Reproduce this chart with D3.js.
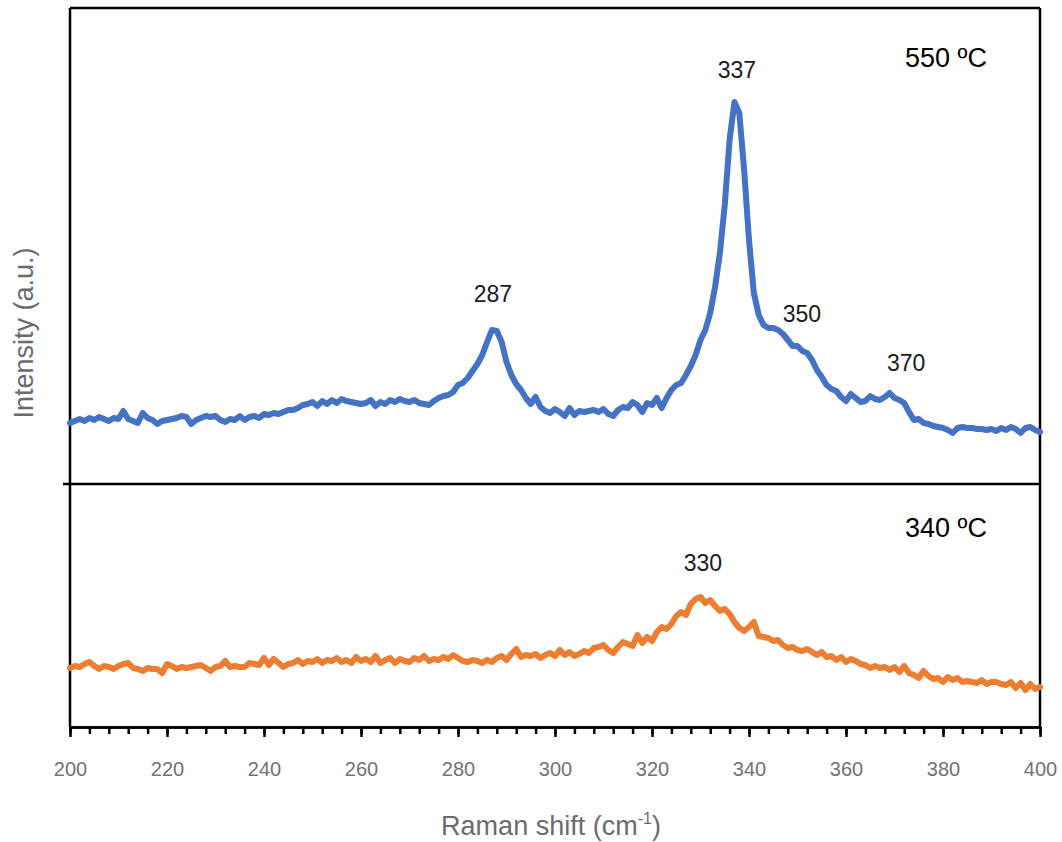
<!DOCTYPE html>
<html>
<head>
<meta charset="utf-8">
<script src="https://cdn.jsdelivr.net/npm/d3@7"></script>
<style>
body { margin: 0; background: #fff; }
svg { font-family: "Liberation Sans", Arial, sans-serif; }
</style>
</head>
<body>
<svg id="chart" width="1062" height="842"></svg>
<script>
// Raman spectra, two anneal temperatures stacked in one frame

var shiftStart = 200, shiftEnd = 400

// 550 C spectrum, one value per cm-1 from 200 to 400 (a.u.)
var spectrum550 = [
61,63,65,63,66,64,67,65,63,66, 65,73,65,63,61,71,66,64,60,63,
64,65,66,68,67,60,64,66,68,67, 68,64,62,65,64,68,64,67,68,66,
70,69,71,70,72,74,74,76,79,80, 82,78,83,80,84,81,85,83,82,81,
80,81,84,78,82,80,84,82,85,83, 82,84,81,80,79,83,86,88,89,92,
99,101,106,113,120,129,142,154,153,142, 122,109,100,94,86,80,87,77,73,71,
75,72,68,76,69,73,72,73,74,72, 75,70,68,74,77,76,82,79,72,81,
79,86,76,86,94,99,101,109,118,129, 144,154,171,197,231,279,344,382,371,314,
244,191,169,159,156,156,154,150,144,138, 138,133,131,124,114,107,99,95,93,87,
83,90,86,82,83,88,85,84,87,91, 86,84,81,72,64,65,61,60,58,57,
56,54,51,56,57,56,56,55,55,54, 55,53,56,54,57,55,51,56,57,54,
52
]

// 340 C spectrum
var spectrum340 = [
59,61,60,63,65,61,58,61,60,58, 61,63,64,59,58,56,59,58,58,54,
63,61,58,60,59,60,61,62,59,56, 60,61,66,60,61,60,60,64,63,62,
69,62,68,64,60,63,64,67,63,66, 65,68,64,67,66,69,65,67,64,70,
66,68,65,71,64,67,69,64,68,66, 65,69,67,71,66,68,67,70,68,72,
69,66,65,67,66,64,67,65,69,71, 67,73,78,70,72,71,73,69,72,74,
71,77,72,75,71,73,76,74,79,80, 82,77,74,80,85,83,81,92,84,90,
86,95,100,98,103,111,115,112,123,128, 130,124,127,121,116,118,113,105,99,96,
100,105,91,90,89,86,87,82,79,80, 77,76,78,75,72,75,70,71,67,70,
65,68,66,63,62,59,61,59,60,57, 60,55,61,54,52,49,56,51,48,49,
45,50,47,49,45,46,45,44,47,43, 45,45,43,42,45,39,44,37,43,38,
40
]

var xTicks = [200, 220, 240, 260, 280, 300, 320, 340, 360, 380, 400]

var peaks550 = [
{label: "287", shift: 287.2, level: 182},
{label: "337", shift: 337.5, level: 406},
{label: "350", shift: 350.9, level: 162},
{label: "370", shift: 372.4, level: 113}
]
var peaks340 = [
{label: "330", shift: 330.5, level: 156}
]

var svg = d3.select("#chart")

var pLeft = 70, pRight = 1040, pTop = 8, pMid = 484, pBottom = 727

var x = d3.scaleLinear().domain([shiftStart, shiftEnd]).range([pLeft, pRight])
var yTop = d3.scaleLinear().domain([0, 476]).range([pMid, pTop])
var yBot = d3.scaleLinear().domain([0, 243]).range([pBottom, pMid])

function toPoints(values){
  return values.map(function(v, i){ return {s: shiftStart + i, v: v} })
}

// frame
var frame = svg.append("g").attr("stroke", "#000").attr("stroke-width", 2.5)
frame.append("line").attr("x1", pLeft).attr("x2", pRight).attr("y1", pTop).attr("y2", pTop)
frame.append("line").attr("x1", pRight).attr("x2", pRight).attr("y1", pTop).attr("y2", pBottom)
frame.append("line").attr("x1", pLeft).attr("x2", pLeft).attr("y1", pTop).attr("y2", pBottom)
frame.append("line").attr("x1", pLeft - 7).attr("x2", pRight).attr("y1", pMid).attr("y2", pMid)

// x axis: minor ticks every 4, major every 20
var minorAxis = d3.axisBottom(x).tickValues(d3.range(200, 401, 4)).tickSize(7).tickSizeOuter(0).tickFormat("")
var majorAxis = d3.axisBottom(x).tickValues(xTicks).tickSize(10).tickSizeOuter(0).tickPadding(25).tickFormat(d3.format("d"))

var gMinor = svg.append("g").attr("transform", "translate(0," + pBottom + ")").call(minorAxis)
var gMajor = svg.append("g").attr("transform", "translate(0," + pBottom + ")").call(majorAxis)
;[gMinor, gMajor].forEach(function(g){
  g.select(".domain").attr("stroke", "#000").attr("stroke-width", 2.5)
  g.selectAll(".tick line").attr("stroke", "#000").attr("stroke-width", 2.5)
})
gMajor.selectAll("text").attr("fill", "#727272").style("font-size", "20px").style("font-family", "Liberation Sans, Arial, sans-serif")

// lines
var lineTop = d3.line().x(function(d){ return x(d.s) }).y(function(d){ return yTop(d.v) })
var lineBot = d3.line().x(function(d){ return x(d.s) }).y(function(d){ return yBot(d.v) })

svg.append("path").datum(toPoints(spectrum550))
  .attr("d", lineTop).attr("fill", "none").attr("stroke", "#4472C4")
  .attr("stroke-width", 6).attr("stroke-linejoin", "round").attr("stroke-linecap", "round")

svg.append("path").datum(toPoints(spectrum340))
  .attr("d", lineBot).attr("fill", "none").attr("stroke", "#ED7D31")
  .attr("stroke-width", 6).attr("stroke-linejoin", "round").attr("stroke-linecap", "round")

// peak labels
svg.selectAll(".peak550").data(peaks550).enter().append("text")
  .attr("x", function(d){ return x(d.shift) }).attr("y", function(d){ return yTop(d.level) })
  .attr("text-anchor", "middle").attr("fill", "#1a1a1a").style("font-size", "23px")
  .text(function(d){ return d.label })

svg.selectAll(".peak340").data(peaks340).enter().append("text")
  .attr("x", function(d){ return x(d.shift) }).attr("y", function(d){ return yBot(d.level) })
  .attr("text-anchor", "middle").attr("fill", "#1a1a1a").style("font-size", "23px")
  .text(function(d){ return d.label })

// temperature tags
svg.append("text").attr("x", 905).attr("y", 67).attr("fill", "#000").style("font-size", "27px").text("550 ºC")
svg.append("text").attr("x", 905).attr("y", 537).attr("fill", "#000").style("font-size", "27px").text("340 ºC")

// axis titles
var xt = svg.append("text").attr("x", 551).attr("y", 835).attr("text-anchor", "middle")
  .attr("fill", "#6b6b6b").style("font-size", "27px")
xt.append("tspan").text("Raman shift (cm")
xt.append("tspan").attr("dy", -11).style("font-size", "16px").text("-1")
xt.append("tspan").attr("dy", 11).text(")")

svg.append("text").attr("transform", "translate(33,333) rotate(-90)")
  .attr("text-anchor", "middle").attr("fill", "#6b6b6b").style("font-size", "27px")
  .text("Intensity (a.u.)")
</script>
</body>
</html>
